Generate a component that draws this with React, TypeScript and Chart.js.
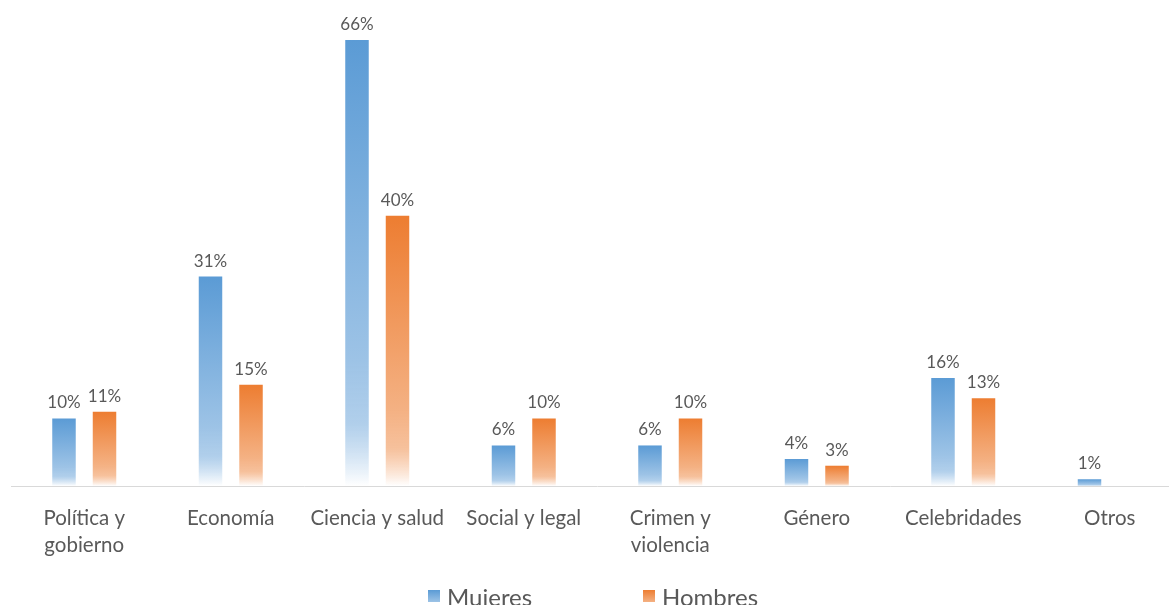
import React, { useEffect, useRef } from "react";
import { Chart, registerables } from "chart.js";

Chart.register(...registerables);

const categories: (string | string[])[] = [
  ["Política y", "gobierno"],
  "Economía",
  "Ciencia y salud",
  "Social y legal",
  ["Crimen y", "violencia"],
  "Género",
  "Celebridades",
  "Otros",
];
const mujeres: (number | null)[] = [10, 31, 66, 6, 6, 4, 16, 1];
const hombres: (number | null)[] = [11, 15, 40, 10, 10, 3, 13, null];
const seriesNames = ["Mujeres", "Hombres"];

const FONT = "Lato, 'Open Sans', sans-serif";
const TEXT = "#595959";
const BLUE = ["#5B9BD5", "#9DC3E6", "#ffffff"];
const ORANGE = ["#ED7D31", "#F4B183", "#ffffff"];

function gradFor(chart: any, value: number, cols: string[]) {
  const y = chart.scales.y;
  if (!y || value == null) return cols[0];
  const top = y.getPixelForValue(value);
  const base = y.getPixelForValue(0);
  if (!isFinite(top) || !isFinite(base) || top === base) return cols[0];
  const g = chart.ctx.createLinearGradient(0, top, 0, base);
  g.addColorStop(0, cols[0]);
  g.addColorStop(0.72, cols[1]);
  g.addColorStop(0.86, cols[1] + "cc");
  g.addColorStop(1, cols[2]);
  return g;
}

const labelPlugin = {
  id: "valueLabels",
  afterDatasetsDraw(chart: any) {
    const ctx = chart.ctx;
    ctx.save();
    ctx.font = `17px ${FONT}`;
    ctx.fillStyle = TEXT;
    ctx.textAlign = "center";
    ctx.textBaseline = "alphabetic";
    chart.data.datasets.forEach((ds: any, di: number) => {
      const meta = chart.getDatasetMeta(di);
      meta.data.forEach((el: any, i: number) => {
        const v = ds.data[i];
        if (v == null) return;
        ctx.fillText(`${v}%`, el.x, el.y - 10);
      });
    });
    ctx.restore();
  },
};

const legendPlugin = {
  id: "customLegend",
  afterDraw(chart: any) {
    const ctx = chart.ctx;
    ctx.save();
    ctx.font = `24px ${FONT}`;
    ctx.fillStyle = TEXT;
    ctx.textBaseline = "alphabetic";
    const items = [
      { x: 428, cols: BLUE, name: seriesNames[0] },
      { x: 643, cols: ORANGE, name: seriesNames[1] },
    ];
    items.forEach((it) => {
      const g = ctx.createLinearGradient(0, 590, 0, 602);
      g.addColorStop(0, it.cols[0]);
      g.addColorStop(1, it.cols[1]);
      ctx.fillStyle = g;
      ctx.fillRect(it.x, 590, 12, 12);
      ctx.fillStyle = TEXT;
      ctx.fillText(it.name, it.x + 19, 606);
    });
    ctx.restore();
  },
};

export default function App() {
  const ref = useRef<HTMLCanvasElement>(null);
  useEffect(() => {
    if (!ref.current) return;
    const chart = new Chart(ref.current, {
      type: "bar",
      data: {
        labels: categories,
        datasets: [
          {
            label: seriesNames[0],
            data: mujeres,
            backgroundColor: (c: any) => gradFor(c.chart, c.raw, BLUE),
            categoryPercentage: 0.553,
            barPercentage: 0.58,
          },
          {
            label: seriesNames[1],
            data: hombres,
            backgroundColor: (c: any) => gradFor(c.chart, c.raw, ORANGE),
            categoryPercentage: 0.553,
            barPercentage: 0.58,
          },
        ],
      },
      options: {
        responsive: false,
        animation: false,
        layout: { padding: { top: 13, left: 11, right: 2, bottom: 0 } },
        plugins: { legend: { display: false }, tooltip: { enabled: false } },
        scales: {
          y: { display: false, min: 0, max: 70 },
          x: {
            grid: { display: false },
            border: { display: true, color: "#d9d9d9", width: 1 },
            ticks: {
              color: TEXT,
              font: { family: FONT, size: 20.5, lineHeight: 1.32 },
              padding: 11,
              maxRotation: 0,
              autoSkip: false,
            },
            afterFit: (s: any) => {
              s.height = 119;
            },
          },
        },
      },
      plugins: [labelPlugin, legendPlugin],
    });
    return () => chart.destroy();
  }, []);
  return (
    <div
      style={{
        position: "fixed",
        left: 0,
        top: 0,
        width: 1169,
        height: 605,
        overflow: "hidden",
        background: "#fff",
      }}
    >
      <canvas ref={ref} width={1185} height={605} style={{ display: "block" }} />
    </div>
  );
}
